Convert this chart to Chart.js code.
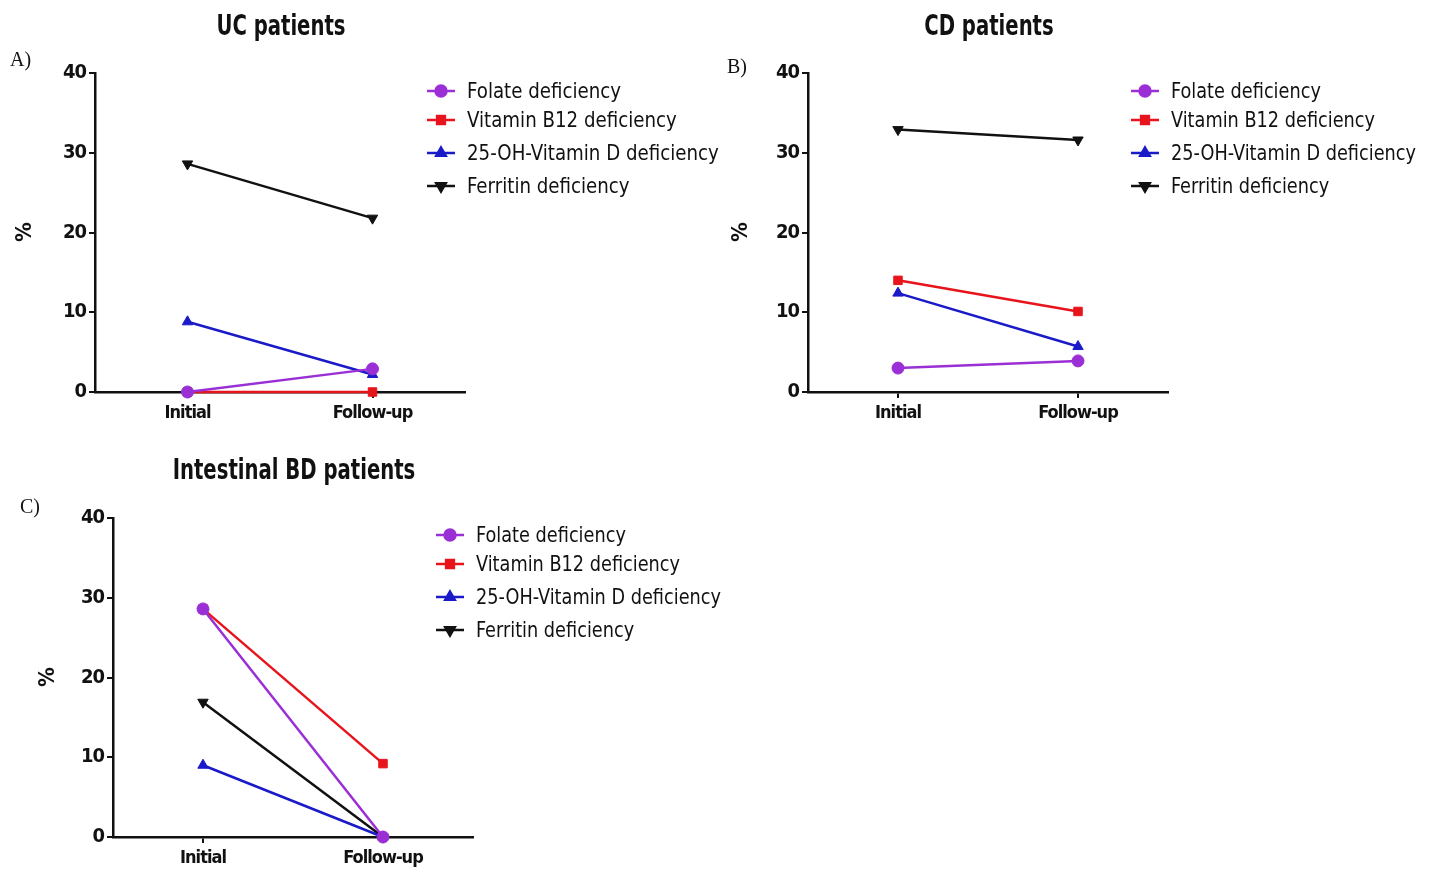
<!DOCTYPE html>
<html>
<head>
<meta charset="utf-8">
<script src="https://cdn.jsdelivr.net/npm/chart.js@4"></script>
<style>
  body { margin: 0; background: #fff; width: 1434px; height: 873px; position: relative; overflow: hidden; }
  .panel { position: absolute; }
</style>
</head>
<body>
<div class="panel" style="left:0;top:0;width:735px;height:440px"><canvas id="ucChart"></canvas></div>
<div class="panel" style="left:720px;top:0;width:714px;height:440px"><canvas id="cdChart"></canvas></div>
<div class="panel" style="left:0;top:440px;width:735px;height:433px"><canvas id="bdChart"></canvas></div>
<script>
// follow-up of micronutrient deficiencies, three patient groups

const categories = ['Initial', 'Follow-up'];
const seriesNames = ['Folate deficiency', 'Vitamin B12 deficiency', '25-OH-Vitamin D deficiency', 'Ferritin deficiency'];

const ucFolate = [0, 2.9];
const ucB12 = [0, 0];
const ucVitD = [8.8, 2.2];
const ucFerritin = [28.6, 21.8];

const cdFolate = [3.0, 3.9];
const cdB12 = [14.0, 10.1];
const cdVitD = [12.4, 5.7];
const cdFerritin = [32.9, 31.6];

const bdFolate = [28.6, 0];
const bdB12 = [28.6, 9.2];
const bdVitD = [9.0, 0];
const bdFerritin = [16.9, 0];

const yMin = 0, yMax = 40, yStep = 10;

const NARROW = "'Liberation Sans Narrow', 'DejaVu Sans Condensed', 'Liberation Sans', sans-serif";
const colors = ['#9b2fd6', '#e8141c', '#1a1ac8', '#111111'];
const styles = ['circle', 'rect', 'triangle', 'triangle'];
const rotations = [0, 0, 0, 180];

function buildSets(values) {
  return values.map((v, i) => ({
    label: seriesNames[i],
    data: v,
    borderColor: colors[i],
    backgroundColor: colors[i],
    pointBackgroundColor: colors[i],
    pointBorderColor: colors[i],
    borderWidth: 2.5,
    pointStyle: styles[i],
    pointRotation: rotations[i],
    pointRadius: 6,
    pointBorderWidth: 1,
    clip: false
  }));
}

// squeeze text horizontally, the original uses a narrow typeface
function narrowText(ctx, text, x, y, sx) {
  ctx.save();
  ctx.translate(x, y);
  ctx.scale(sx, 1);
  ctx.fillText(text, 0, 0);
  ctx.restore();
}

function decor(cfg) {
  return {
    id: 'decor',
    beforeDraw(chart) {
      chart.ctx.letterSpacing = '-1px';
    },
    afterDraw(chart) {
      const ctx = chart.ctx;
      ctx.save();
      ctx.letterSpacing = '0px';
      // title
      ctx.fillStyle = '#111';
      ctx.font = "bold 28px " + NARROW;
      ctx.textAlign = 'center';
      ctx.textBaseline = 'middle';
      narrowText(ctx, cfg.title, cfg.titleX, cfg.titleY, 0.78);
      // panel letter
      ctx.font = "20px 'Liberation Serif', 'DejaVu Serif', serif";
      ctx.textAlign = 'left';
      ctx.fillText(cfg.letter, cfg.letterX, cfg.letterY);
      // legend
      const rows = [0, 29, 62, 95];
      ctx.font = "22px " + NARROW;
      chart.data.datasets.forEach((ds, i) => {
        const y = cfg.legendY + rows[i];
        ctx.strokeStyle = ds.borderColor;
        ctx.fillStyle = ds.borderColor;
        ctx.lineWidth = 2.5;
        ctx.beginPath();
        ctx.moveTo(cfg.legendX - 14, y);
        ctx.lineTo(cfg.legendX + 14, y);
        ctx.stroke();
        Chart.helpers.drawPoint(ctx, { pointStyle: ds.pointStyle, rotation: ds.pointRotation, radius: 5.5, borderWidth: 1 }, cfg.legendX, y);
        ctx.fillStyle = '#111';
        narrowText(ctx, ds.label, cfg.legendX + 26, y + 1, cfg.legendSx);
      });
      ctx.restore();
    }
  };
}

function makeChart(id, values, cfg) {
  return new Chart(document.getElementById(id), {
    type: 'line',
    data: { labels: categories, datasets: buildSets(values) },
    options: {
      responsive: true,
      maintainAspectRatio: false,
      animation: false,
      layout: { padding: { left: 0, top: cfg.top, right: cfg.right, bottom: 0 } },
      plugins: { legend: { display: false }, tooltip: { enabled: false } },
      scales: {
        x: {
          offset: true,
          afterFit: s => { s.height = cfg.xHeight; },
          grid: { drawOnChartArea: false, tickLength: 6, tickColor: '#111', lineWidth: 2 },
          border: { color: '#111', width: 2.5 },
          ticks: { color: '#111', padding: 5, font: { family: NARROW, weight: 'bold', size: 18 } }
        },
        y: {
          min: yMin,
          max: yMax,
          afterFit: s => { s.width = cfg.left; },
          grid: { drawOnChartArea: false, tickLength: 6, tickColor: '#111', lineWidth: 2 },
          border: { color: '#111', width: 2.5 },
          ticks: { stepSize: yStep, color: '#111', padding: 3, font: { family: NARROW, weight: 'bold', size: 20 } },
          title: { display: true, text: '%', color: '#111', padding: { top: cfg.pctPad, bottom: 0 }, font: { family: NARROW, weight: 'bold', size: 22 } }
        }
      }
    },
    plugins: [decor(cfg)]
  });
}

makeChart('ucChart', [ucFolate, ucB12, ucVitD, ucFerritin], {
  left: 95, right: 270, top: 73, xHeight: 48, pctPad: 12,
  title: 'UC patients', titleX: 281, titleY: 28,
  letter: 'A)', letterX: 10, letterY: 61,
  legendX: 441, legendY: 91, legendSx: 0.92
});

makeChart('cdChart', [cdFolate, cdB12, cdVitD, cdFerritin], {
  left: 88, right: 266, top: 73, xHeight: 48, pctPad: 8,
  title: 'CD patients', titleX: 269, titleY: 28,
  letter: 'B)', letterX: 7, letterY: 68,
  legendX: 425, legendY: 91, legendSx: 0.895
});

makeChart('bdChart', [bdFolate, bdB12, bdVitD, bdFerritin], {
  left: 113, right: 262, top: 78, xHeight: 36, pctPad: 35,
  title: 'Intestinal BD patients', titleX: 294, titleY: 32,
  letter: 'C)', letterX: 20, letterY: 68,
  legendX: 450, legendY: 95, legendSx: 0.895
});
</script>
</body>
</html>
